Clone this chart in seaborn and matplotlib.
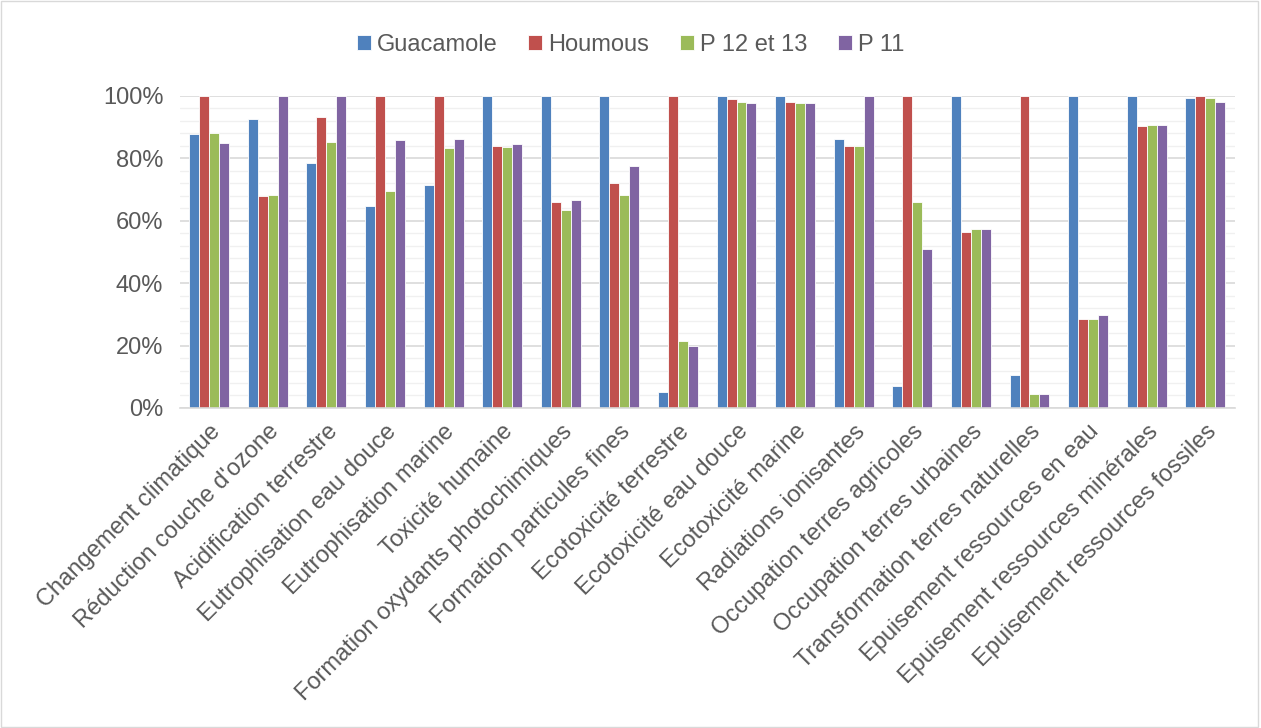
import matplotlib
matplotlib.use("Agg")
import matplotlib.pyplot as plt
import pandas as pd
import seaborn as sns
from matplotlib.ticker import MultipleLocator, PercentFormatter

categories = [
    "Changement climatique", "Réduction couche d'ozone", "Acidification terrestre",
    "Eutrophisation eau douce", "Eutrophisation marine", "Toxicité humaine",
    "Formation oxydants photochimiques", "Formation particules fines",
    "Ecotoxicité terrestre", "Ecotoxicité eau douce", "Ecotoxicité marine",
    "Radiations ionisantes", "Occupation terres agricoles", "Occupation terres urbaines",
    "Transformation terres naturelles", "Epuisement ressources en eau",
    "Epuisement ressources minérales", "Epuisement ressources fossiles",
]
series = ["Guacamole", "Houmous", "P 12 et 13", "P 11"]

guacamole = [87.8, 92.7, 78.4, 64.6, 71.4, 100, 100, 100, 5.1, 100, 100, 86.3, 7.2, 100, 10.7, 100, 100, 99.4]
houmous = [100, 67.9, 93.1, 100, 100, 83.8, 66.0, 72.1, 100, 99.0, 98.2, 83.9, 100, 56.4, 100, 28.6, 90.4, 100]
p12_13 = [88.0, 68.2, 85.2, 69.5, 83.4, 83.7, 63.5, 68.2, 21.6, 98.1, 97.6, 83.8, 66.0, 57.5, 4.5, 28.6, 90.6, 99.4]
p11 = [84.9, 100, 100, 85.9, 86.1, 84.5, 66.8, 77.4, 20.0, 97.8, 97.6, 100, 51.0, 57.5, 4.5, 29.7, 90.6, 98.2]

colors = ["#4F81BD", "#C0504D", "#9BBB59", "#8064A2"]

df = pd.DataFrame({
    "Catégorie": categories * 4,
    "Série": sum([[s] * len(categories) for s in series], []),
    "Valeur": guacamole + houmous + p12_13 + p11,
})

sns.set_style("white")
plt.rcParams["font.family"] = ["Liberation Sans", "DejaVu Sans"]
text_color = "#595959"

fig = plt.figure(figsize=(12.61, 7.28), dpi=100)
ax = fig.add_axes([0.1427, 0.4396, 0.8363, 0.4286])

sns.barplot(
    data=df, x="Catégorie", y="Valeur", hue="Série",
    palette=colors, width=0.68, ax=ax, saturation=1,
    edgecolor="white", linewidth=0.6,
)

ax.set_ylim(0, 100)
ax.set_xlim(-0.5, len(categories) - 0.5)
ax.yaxis.set_major_locator(MultipleLocator(20))
ax.yaxis.set_minor_locator(MultipleLocator(4))
ax.yaxis.set_major_formatter(PercentFormatter(decimals=0))
ax.grid(axis="y", which="major", color="#D9D9D9", linewidth=1.2)
ax.grid(axis="y", which="minor", color="#F0F0F0", linewidth=1.0)
ax.set_axisbelow(True)
for side in ["top", "right", "left"]:
    ax.spines[side].set_visible(False)
ax.spines["bottom"].set_color("#D9D9D9")
ax.spines["bottom"].set_linewidth(1.2)

ax.set_xlabel("")
ax.set_ylabel("")
ax.tick_params(axis="both", which="both", length=0, colors=text_color, labelsize=17)
ax.tick_params(axis="y", pad=12)
ax.tick_params(axis="x", pad=9)
ax.set_xticks(range(len(categories)))
ax.set_xticklabels(categories, rotation=45, ha="right", rotation_mode="anchor")

handles, labels = ax.get_legend_handles_labels()
ax.legend(
    handles, labels, loc="center", bbox_to_anchor=(0.5, 0.938), bbox_transform=fig.transFigure,
    ncol=4, frameon=False, fontsize=17, handlelength=0.6, handleheight=0.6,
    handletextpad=0.25, columnspacing=1.3, labelcolor=text_color,
)

fig.add_artist(plt.Rectangle((0.001, 0.001), 0.997, 0.997, transform=fig.transFigure,
                             fill=False, edgecolor="#D9D9D9", linewidth=1))

fig.savefig("out.png", dpi=100)
